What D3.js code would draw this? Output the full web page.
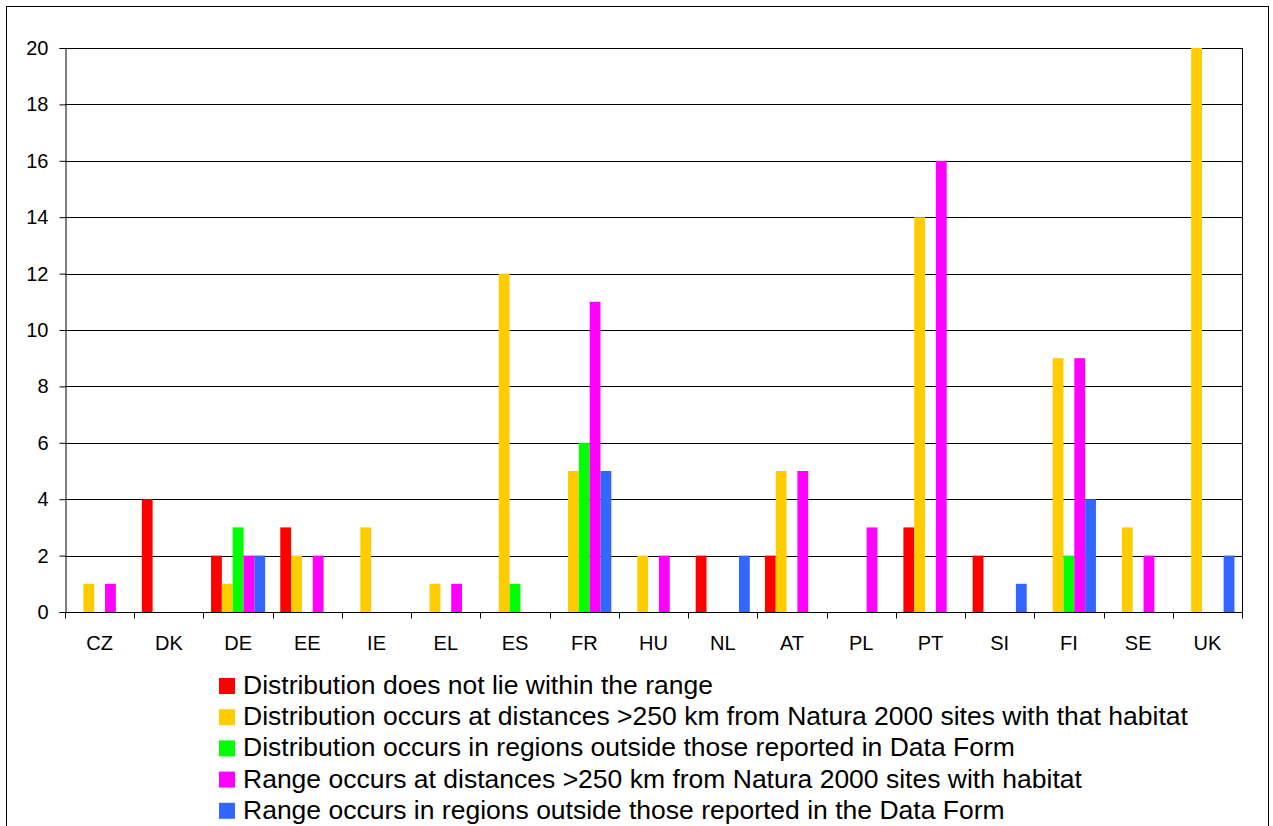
<!DOCTYPE html>
<html>
<head>
<meta charset="utf-8">
<script src="https://cdn.jsdelivr.net/npm/d3@7"></script>
<style>
  html, body { margin: 0; padding: 0; background: #fff; }
  svg { display: block; font-family: "Liberation Sans", Arial, sans-serif; }
</style>
</head>
<body>
<svg id="chart" width="1273" height="826"></svg>
<script>
// Member states on the category axis
const countries = ["CZ", "DK", "DE", "EE", "IE", "EL", "ES", "FR", "HU", "NL", "AT", "PL", "PT", "SI", "FI", "SE", "UK"];

// Series names (legend order) and colours
const seriesNames = [
  "Distribution does not lie within the range",
  "Distribution occurs at distances >250 km from Natura 2000 sites with that habitat",
  "Distribution occurs in regions outside those reported in Data Form",
  "Range occurs at distances >250 km from Natura 2000 sites with habitat",
  "Range occurs in regions outside those reported in the Data Form"
];
const seriesColors = ["#FF0000", "#FFCC00", "#00FF00", "#FF00FF", "#3366FF"];

// Counts per country, one array per series
const notWithinRange      = [0, 4, 2, 3, 0, 0, 0, 0, 0, 2, 2, 0, 3, 2, 0, 0, 0];
const distributionFar     = [1, 0, 1, 2, 3, 1, 12, 5, 2, 0, 5, 0, 14, 0, 9, 3, 20];
const distributionOutside = [0, 0, 3, 0, 0, 0, 1, 6, 0, 0, 0, 0, 0, 0, 2, 0, 0];
const rangeFar            = [1, 0, 2, 2, 0, 1, 0, 11, 2, 0, 5, 3, 16, 0, 9, 2, 0];
const rangeOutside        = [0, 0, 2, 0, 0, 0, 0, 5, 0, 2, 0, 0, 0, 1, 4, 0, 2];

const yTicks = [0, 2, 4, 6, 8, 10, 12, 14, 16, 18, 20];

const seriesValues = [notWithinRange, distributionFar, distributionOutside, rangeFar, rangeOutside];

const svg = d3.select("#chart");

// Outer frame
svg.append("rect")
  .attr("x", 6.5).attr("y", 6.5)
  .attr("width", 1262).attr("height", 830)
  .attr("fill", "none").attr("stroke", "#000").attr("stroke-width", 1);

const plot = { left: 65, top: 48, right: 1242, bottom: 612 };

const x = d3.scaleBand()
  .domain(countries)
  .range([plot.left, plot.right])
  .paddingInner(0)
  .paddingOuter(0);

const bandW = x.bandwidth();
const barW = bandW / 6.4;
const groupOffset = (bandW - barW * 5) / 2;

const y = d3.scaleLinear()
  .domain([0, 20])
  .range([plot.bottom, plot.top]);

// Horizontal gridlines
svg.append("g")
  .selectAll("line")
  .data(yTicks.filter(d => d > 0))
  .join("line")
  .attr("x1", plot.left).attr("x2", plot.right)
  .attr("y1", d => Math.round(y(d)) + 0.5)
  .attr("y2", d => Math.round(y(d)) + 0.5)
  .attr("stroke", "#000").attr("stroke-width", 1);

// Right edge of plot area
svg.append("line")
  .attr("x1", plot.right + 0.5).attr("x2", plot.right + 0.5)
  .attr("y1", plot.top).attr("y2", plot.bottom)
  .attr("stroke", "#000");

// Bars
const barData = [];
countries.forEach((c, i) => {
  seriesValues.forEach((vals, s) => {
    barData.push({ country: c, series: s, value: vals[i] });
  });
});

svg.append("g")
  .selectAll("rect")
  .data(barData.filter(d => d.value > 0))
  .join("rect")
  .attr("x", d => x(d.country) + groupOffset + d.series * barW)
  .attr("y", d => y(d.value))
  .attr("width", barW)
  .attr("height", d => y(0) - y(d.value))
  .attr("fill", d => seriesColors[d.series]);

// Y axis
const yAxis = d3.axisLeft(y)
  .tickValues(yTicks)
  .tickSize(6)
  .tickPadding(11)
  .tickFormat(d3.format("d"));

const yG = svg.append("g")
  .attr("transform", `translate(${plot.left + 0.5},0)`)
  .call(yAxis);
yG.select(".domain").attr("stroke", "#000");
yG.selectAll(".tick line").attr("stroke", "#000");
yG.selectAll(".tick text")
  .attr("font-size", 20)
  .attr("fill", "#000")
  .style("font-family", "'Liberation Sans', Arial, sans-serif");

// X axis: ticks at category boundaries, labels centred in bands
const xG = svg.append("g")
  .attr("transform", `translate(0,${plot.bottom + 0.5})`);

xG.append("line")
  .attr("x1", plot.left).attr("x2", plot.right + 1)
  .attr("stroke", "#000");

const boundaries = countries.map(c => x(c)).concat([plot.right]);
xG.selectAll("line.tick")
  .data(boundaries)
  .join("line")
  .attr("class", "tick")
  .attr("x1", d => Math.round(d) + 0.5)
  .attr("x2", d => Math.round(d) + 0.5)
  .attr("y1", 0).attr("y2", 6)
  .attr("stroke", "#000");

xG.selectAll("text")
  .data(countries)
  .join("text")
  .attr("x", d => x(d) + bandW / 2)
  .attr("y", 37)
  .attr("text-anchor", "middle")
  .attr("font-size", 20)
  .attr("fill", "#000")
  .text(d => d);

// Legend
const legend = svg.append("g").attr("transform", "translate(219,678)");
const rowH = 31.2;
const items = legend.selectAll("g")
  .data(seriesNames)
  .join("g")
  .attr("transform", (d, i) => `translate(0,${i * rowH})`);

items.append("rect")
  .attr("width", 16).attr("height", 16)
  .attr("fill", (d, i) => seriesColors[i]);

items.append("text")
  .attr("x", 24)
  .attr("y", 16)
  .attr("font-size", 26.5)
  .attr("fill", "#000")
  .text(d => d);
</script>
</body>
</html>
